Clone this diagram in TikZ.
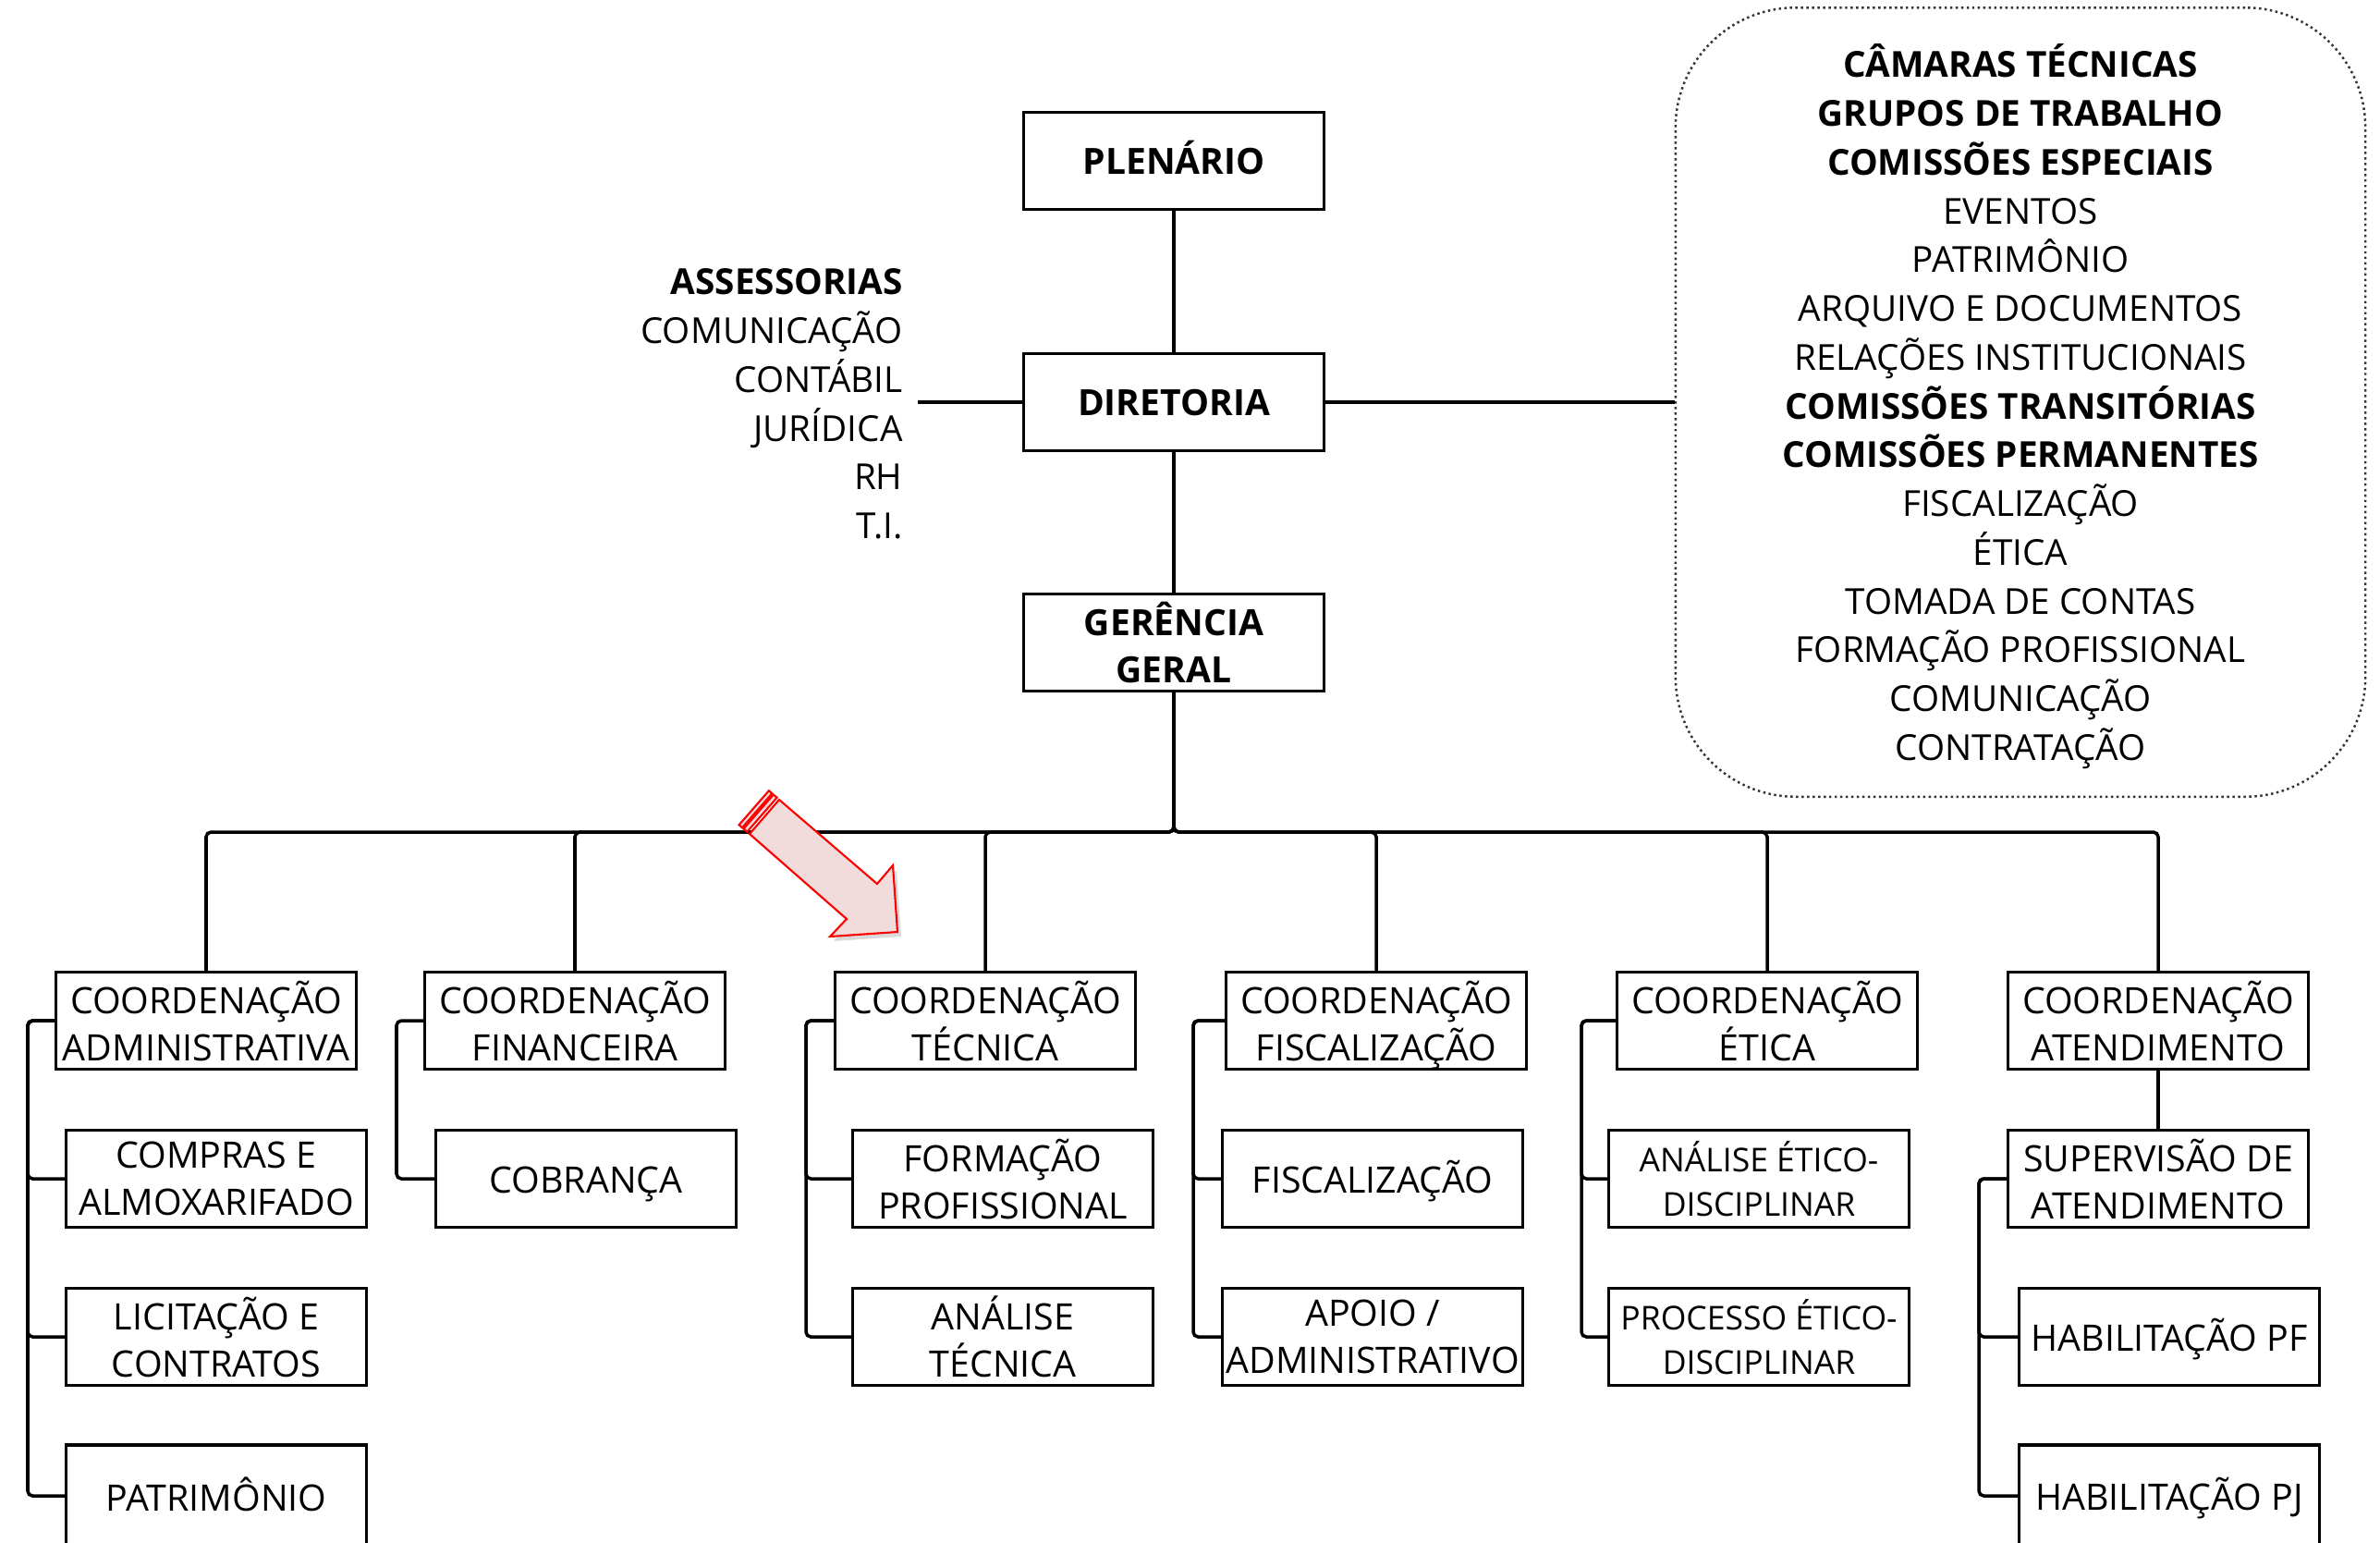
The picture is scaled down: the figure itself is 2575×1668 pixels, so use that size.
\documentclass[tikz,border=0pt]{standalone}
\usepackage{fontspec}
\setmainfont{Open Sans}
\usepackage{tikz}

\definecolor{setavermelha}{RGB}{255,0,0}
\definecolor{setarosa}{RGB}{242,220,219}

\begin{document}
\begin{tikzpicture}[x=0.01cm, y=-0.01cm,
    caixa/.style={shape=rectangle, draw=black, line width=0.9pt, align=center,
        minimum width=3.25cm, minimum height=1.05cm, inner sep=1pt, text depth=-3pt,
        execute at begin node={\rule{0pt}{10pt}},
        font=\fontsize{11.2}{14.5}\selectfont},
    simples/.style={caixa, text depth=1.2pt},
    topo/.style={caixa, text depth=2pt, font=\fontsize{11.1}{14.5}\selectfont\bfseries},
    etica/.style={caixa, text depth=0pt, font=\fontsize{10.1}{13.5}\selectfont},
    ligacao/.style={draw=black, line width=1pt, rounded corners=1.5pt},
    lista/.style={align=center, font=\fontsize{11}{15}\selectfont},
    seta/.style={fill=setarosa, draw=setavermelha, line width=0.6pt, line join=miter}]
    \useasboundingbox (0,0) rectangle (2575,1668);

    % plenario, diretoria e gerencia
    \node[topo] at (1270,174) (plen) {PLENÁRIO};
    \node[topo] at (1270,435) (dir) {DIRETORIA};
    \node[topo, text depth=-3pt] at (1270,695) (ger) {GERÊNCIA\\GERAL};

    \node[lista, align=right, anchor=east, inner xsep=4.5pt] at (993,437) (asse)
        {{\bfseries ASSESSORIAS}\\COMUNICAÇÃO\\CONTÁBIL\\JURÍDICA\\RH\\T.I.};

    \node[lista, shape=rectangle, rounded corners=1.3cm, draw=black!80, densely dotted,
        line width=0.7pt, minimum width=7.46cm, minimum height=8.53cm, text depth=-0.6pt]
        at (2186,435) (cam)
        {{\bfseries CÂMARAS TÉCNICAS}\\{\bfseries GRUPOS DE TRABALHO}\\
         {\bfseries COMISSÕES ESPECIAIS}\\EVENTOS\\PATRIMÔNIO\\ARQUIVO E DOCUMENTOS\\
         RELAÇÕES INSTITUCIONAIS\\{\bfseries COMISSÕES TRANSITÓRIAS}\\
         {\bfseries COMISSÕES PERMANENTES}\\FISCALIZAÇÃO\\ÉTICA\\TOMADA DE CONTAS\\
         FORMAÇÃO PROFISSIONAL\\COMUNICAÇÃO\\CONTRATAÇÃO};

    % coordenacoes
    \node[caixa] at (223,1104) (cadm) {COORDENAÇÃO\\ADMINISTRATIVA};
    \node[caixa] at (622,1104) (cfin) {COORDENAÇÃO\\FINANCEIRA};
    \node[caixa] at (1066,1104) (ctec) {COORDENAÇÃO\\TÉCNICA};
    \node[caixa] at (1489,1104) (cfis) {COORDENAÇÃO\\FISCALIZAÇÃO};
    \node[caixa] at (1912,1104) (ceti) {COORDENAÇÃO\\ÉTICA};
    \node[caixa] at (2335,1104) (cate) {COORDENAÇÃO\\ATENDIMENTO};

    % setores
    \node[caixa] at (234,1275) (compras) {COMPRAS E\\ALMOXARIFADO};
    \node[caixa] at (234,1446) (licit) {LICITAÇÃO E\\CONTRATOS};
    \node[simples, minimum height=1.1cm] at (234,1618) (patr) {PATRIMÔNIO};
    \node[simples] at (634,1275) (cobr) {COBRANÇA};
    \node[caixa] at (1085,1275) (form) {FORMAÇÃO\\PROFISSIONAL};
    \node[caixa] at (1085,1446) (anal) {ANÁLISE\\TÉCNICA};
    \node[simples] at (1485,1275) (fisc) {FISCALIZAÇÃO};
    \node[caixa] at (1485,1446) (apoio) {APOIO /\\ADMINISTRATIVO};
    \node[etica] at (1903,1275) (aned) {ANÁLISE ÉTICO-\\DISCIPLINAR};
    \node[etica] at (1903,1446) (proc) {PROCESSO ÉTICO-\\DISCIPLINAR};
    \node[caixa] at (2335,1275) (sup) {SUPERVISÃO DE\\ATENDIMENTO};
    \node[simples] at (2347,1446) (habf) {HABILITAÇÃO PF};
    \node[simples, minimum height=1.1cm] at (2347,1618) (habj) {HABILITAÇÃO PJ};

    % ligacoes
    \draw[ligacao] (plen) -- (dir);
    \draw[ligacao] (dir) -- (ger);
    \draw[ligacao] (asse.east |- dir.west) -- (dir.west);
    \draw[ligacao] (dir.east) -- (dir.east -| cam.west);

    \coordinate (barra) at (1270,900);
    \foreach \c in {cadm,cfin,ctec,cfis,ceti,cate}
        \draw[ligacao] (ger.south) -- (barra) -| (\c.north);

    \coordinate (badm) at (30,1104);
    \coordinate (bfin) at (429,1104);
    \coordinate (btec) at (872,1104);
    \coordinate (bfis) at (1291,1104);
    \coordinate (beti) at (1711,1104);
    \coordinate (bate) at (2141,1275);
    \foreach \s in {compras,licit,patr}
        \draw[ligacao] (cadm.west) -- (badm) |- (\s.west);
    \draw[ligacao] (cfin.west) -- (bfin) |- (cobr.west);
    \foreach \s in {form,anal}
        \draw[ligacao] (ctec.west) -- (btec) |- (\s.west);
    \foreach \s in {fisc,apoio}
        \draw[ligacao] (cfis.west) -- (bfis) |- (\s.west);
    \foreach \s in {aned,proc}
        \draw[ligacao] (ceti.west) -- (beti) |- (\s.west);
    \draw[ligacao] (cate) -- (sup);
    \foreach \s in {habf,habj}
        \draw[ligacao] (sup.west) -- (bate) |- (\s.west);

    % seta de destaque
    \fill[black, opacity=0.15] (847,870) -- (953,961) -- (970,941) -- (975,1013)
        -- (902,1018) -- (920,999) -- (815,907) -- cycle;
    \filldraw[seta] (843,865) -- (949,956) -- (966,936) -- (971,1008)
        -- (898,1013) -- (916,994) -- (811,902) -- cycle;
    \filldraw[seta] (831.9,855.2) -- (835.3,858.2) -- (803,895.2) -- (799.6,892.2) -- cycle;
    \filldraw[seta] (836.8,859.5) -- (840.6,862.7) -- (808.3,899.7) -- (804.5,896.5) -- cycle;
\end{tikzpicture}
\end{document}
